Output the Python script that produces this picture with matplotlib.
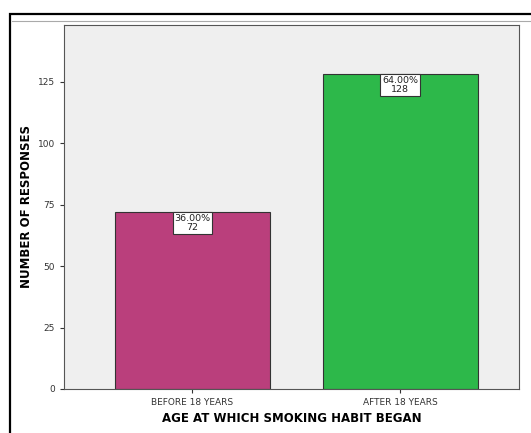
import matplotlib.pyplot as plt
from matplotlib.patches import Rectangle

categories = ['BEFORE 18 YEARS', 'AFTER 18 YEARS']
counts = [72, 128]
percents = [36.00, 64.00]
colors = ['#BA3F7C', '#2DB84A']

fig = plt.figure(figsize=(5.31, 4.33), dpi=100)

# outer frame like the SPSS export
fig.patches.append(Rectangle((10 / 531, -0.1), 1.1, (433 - 14) / 433 + 0.1,
                             transform=fig.transFigure, fill=False,
                             edgecolor='black', linewidth=1.6))
fig.lines.append(plt.Line2D([12 / 531, 1], [1 - 21 / 433, 1 - 21 / 433],
                            transform=fig.transFigure, color='#AAAAAA', lw=0.8))

ax = fig.add_axes([64 / 531, 1 - 389 / 433, (519 - 64) / 531, (389 - 25) / 433])
ax.set_facecolor('#EFEFEF')

x = range(len(categories))
ax.bar(x, counts, width=0.747, color=colors, edgecolor='#333333', linewidth=0.8, zorder=2)

for xi, c, p in zip(x, counts, percents):
    ax.annotate(f'{p:.2f}%\n{c}', xy=(xi, c), xytext=(0, -1.5), textcoords='offset points',
                ha='center', va='top', fontsize=6.8, color='#222222', linespacing=0.95,
                bbox=dict(boxstyle='square,pad=0.2', fc='white', ec='#333333', lw=0.8),
                zorder=3)

ax.set_xlim(-0.619, 1.573)
ax.set_ylim(0, 148)
ax.set_yticks([0, 25, 50, 75, 100, 125])
ax.set_xticks(list(x))
ax.set_xticklabels(categories)
ax.tick_params(labelsize=6.5, colors='#333333', length=3, width=0.8)
for s in ax.spines.values():
    s.set_color('#555555')
    s.set_linewidth(0.8)

ax.set_ylabel('NUMBER OF RESPONSES', fontsize=8.5, fontweight='bold')
ax.yaxis.set_label_coords(-0.068, 0.5)
ax.set_xlabel('AGE AT WHICH SMOKING HABIT BEGAN', fontsize=8.5, fontweight='bold', labelpad=3.5)

fig.savefig('out.png', dpi=100)
